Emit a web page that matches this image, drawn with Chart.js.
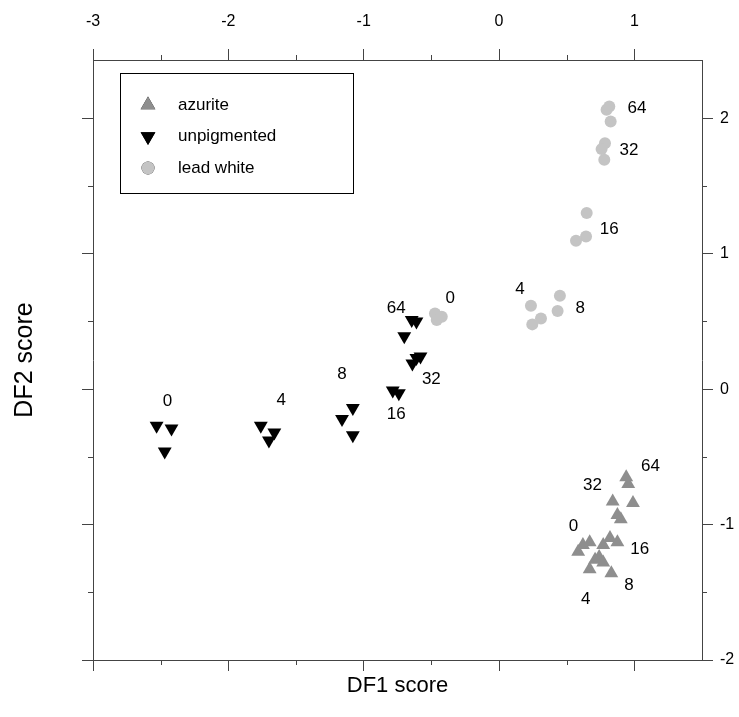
<!DOCTYPE html>
<html>
<head>
<meta charset="utf-8">
<script src="https://cdn.jsdelivr.net/npm/chart.js@4.4.1/dist/chart.umd.min.js"></script>
<style>
  body { margin: 0; background: #fff; }
</style>
</head>
<body>
<canvas id="myChart" width="739" height="717"></canvas>
<script>
// DF1 / DF2 scores
const azuriteX = [0.94, 0.955, 0.84, 0.99, 0.875, 0.90, 0.82, 0.875, 0.67, 0.62, 0.77, 0.585, 0.74, 0.77, 0.67, 0.83, 0.71];
const azuriteY = [-0.65, -0.70, -0.83, -0.84, -0.93, -0.96, -1.10, -1.13, -1.13, -1.15, -1.15, -1.20, -1.24, -1.28, -1.33, -1.36, -1.26];

const unpigmentedX = [-2.53, -2.42, -2.47, -1.76, -1.66, -1.70, -1.16, -1.08, -1.08, -0.645, -0.61, -0.70, -0.58, -0.61, -0.64, -0.785, -0.74];
const unpigmentedY = [-0.27, -0.29, -0.46, -0.27, -0.32, -0.38, -0.22, -0.14, -0.34, 0.51, 0.50, 0.39, 0.24, 0.23, 0.19, -0.01, -0.03];

const leadX = [-0.473, -0.423, -0.46, 0.236, 0.45, 0.433, 0.31, 0.246, 0.648, 0.643, 0.569, 0.783, 0.758, 0.778, 0.815, 0.795, 0.825];
const leadY = [0.559, 0.534, 0.51, 0.616, 0.69, 0.577, 0.522, 0.478, 1.30, 1.126, 1.096, 1.816, 1.772, 1.693, 2.087, 2.062, 1.976];

// number labels next to the groups
const labelText = ['0', '4', '8', '16', '32', '64', '0', '4', '8', '16', '32', '64', '0', '4', '8', '16', '32', '64'];
const labelX = [-2.45, -1.61, -1.16, -0.76, -0.50, -0.76, -0.36, 0.155, 0.60, 0.815, 0.96, 1.02, 0.55, 0.64, 0.96, 1.04, 0.69, 1.12];
const labelY = [-0.09, -0.08, 0.11, -0.185, 0.07, 0.60, 0.67, 0.74, 0.60, 1.18, 1.76, 2.07, -1.01, -1.55, -1.45, -1.18, -0.71, -0.57];

const minorX = [-2.5, -1.5, -0.5, 0.5];
const minorY = [-1.5, -0.5, 0.5, 1.5];

function pts(xs, ys) {
  return xs.map((x, i) => ({ x: x, y: ys[i] }));
}

const axisColor = '#444';
const font = 'Liberation Sans, Arial, sans-serif';

// minor ticks, point labels and the boxed legend
const extras = {
  id: 'extras',
  afterDraw(chart) {
    const ctx = chart.ctx;
    const a = chart.chartArea;
    const sx = chart.scales.x, sy = chart.scales.y;
    ctx.save();
    ctx.strokeStyle = axisColor;
    ctx.lineWidth = 1;
    ctx.beginPath();
    minorX.forEach(v => {
      const px = Math.round(sx.getPixelForValue(v)) + 0.5;
      ctx.moveTo(px, a.top); ctx.lineTo(px, a.top - 5);
      ctx.moveTo(px, a.bottom); ctx.lineTo(px, a.bottom + 5);
    });
    minorY.forEach(v => {
      const py = Math.round(sy.getPixelForValue(v)) + 0.5;
      ctx.moveTo(a.left, py); ctx.lineTo(a.left - 5, py);
      ctx.moveTo(a.right, py); ctx.lineTo(a.right + 5, py);
    });
    ctx.stroke();

    ctx.fillStyle = '#000';
    ctx.font = '17px ' + font;
    ctx.textAlign = 'center';
    ctx.textBaseline = 'middle';
    labelText.forEach((t, i) => {
      ctx.fillText(t, sx.getPixelForValue(labelX[i]), sy.getPixelForValue(labelY[i]));
    });

    // legend box
    const bx = a.left + 27, by = a.top + 13, bw = 233, bh = 120;
    ctx.strokeStyle = '#000';
    ctx.strokeRect(bx + 0.5, by + 0.5, bw, bh);
    ctx.textAlign = 'left';
    ctx.font = '17px ' + font;
    chart.data.datasets.forEach((ds, i) => {
      const cy = by + 32 + i * 31.5;
      Chart.helpers.drawPoint(ctx, {
        pointStyle: ds.pointStyle,
        rotation: ds.rotation || 0,
        radius: ds.pointRadius + 0.5,
        borderWidth: 0
      }, bx + 28, cy);
      ctx.fillStyle = ds.backgroundColor;
      ctx.fill();
      ctx.fillStyle = '#000';
      ctx.fillText(ds.label, bx + 58, cy);
    });
    ctx.restore();
  }
};

const data = {
  datasets: [{
    label: 'azurite',
    data: pts(azuriteX, azuriteY),
    pointStyle: 'triangle',
    pointRadius: 8,
    backgroundColor: '#8e8e8e',
    borderColor: '#8e8e8e',
    borderWidth: 0
  }, {
    label: 'unpigmented',
    data: pts(unpigmentedX, unpigmentedY),
    pointStyle: 'triangle',
    rotation: 180,
    pointRadius: 8,
    backgroundColor: '#000000',
    borderColor: '#000000',
    borderWidth: 0
  }, {
    label: 'lead white',
    data: pts(leadX, leadY),
    pointStyle: 'circle',
    pointRadius: 6,
    backgroundColor: '#c4c4c4',
    borderColor: '#c4c4c4',
    borderWidth: 0
  }]
};

function side(pos, size, labels, title) {
  const horiz = pos === 'top' || pos === 'bottom';
  const s = {
    type: 'linear',
    position: pos,
    min: horiz ? -3 : -2,
    max: horiz ? 1.5 : 2.43,
    grid: { drawOnChartArea: false, drawTicks: true, tickLength: 11, tickColor: axisColor },
    border: { display: true, color: axisColor, width: 1 },
    ticks: {
      display: labels,
      stepSize: 1,
      includeBounds: false,
      color: '#000',
      padding: pos === 'top' ? 18 : 7,
      font: { family: font, size: 16 }
    },
    afterFit(scale) {
      if (horiz) scale.height = size;
      else scale.width = size;
    }
  };
  if (title) {
    s.title = {
      display: true,
      text: title,
      color: '#000',
      font: { family: font, size: horiz ? 22 : 25 },
      padding: pos === 'bottom' ? { top: 0, bottom: 18 } : { top: 10, bottom: 0 }
    };
  }
  return s;
}

const config = {
  type: 'scatter',
  data: data,
  options: {
    responsive: false,
    animation: false,
    layout: { padding: 0 },
    plugins: { legend: { display: false }, tooltip: { enabled: false } },
    scales: {
      x: side('bottom', 57, false, 'DF1 score'),
      y: side('left', 93, false, 'DF2 score'),
      x2: side('top', 60, true),
      y2: side('right', 37, true)
    }
  },
  plugins: [extras]
};

var myChart = new Chart(document.getElementById('myChart'), config);
</script>
</body>
</html>
